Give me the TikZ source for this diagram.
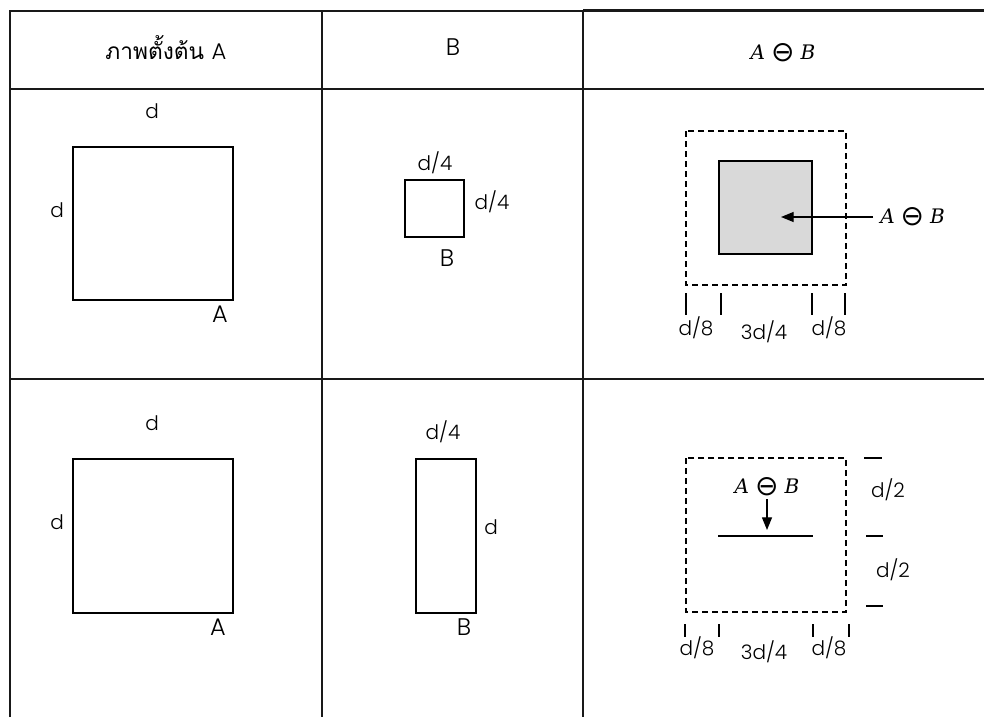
\documentclass[tikz,border=0pt]{standalone}
\usepackage{fontspec}
\setmainfont{Loma}[Script=Thai]
\IfFontExistsTF{Poppins Light}{\newfontfamily\labfont{Poppins Light}}{\newfontfamily\labfont{Poppins}}
\newfontfamily\itfont{DejaVu Serif}
\newfontfamily\symfont{DejaVu Sans}
\newcommand{\erosion}{{\itfont\itshape A}\hspace{0.3em}\raisebox{-1.8pt}{\symfont\fontsize{21}{21}\selectfont ⊖}\hspace{0.3em}{\itfont\itshape B}}
\usetikzlibrary{arrows.meta}
\tikzset{
  gridline/.style={line width=1.4pt*0.75, black!90},
  outline/.style={line width=1.5pt*0.75, black},
  dash box/.style={line width=1.4pt*0.75, black, dash pattern=on 4.5pt off 3pt},
  tickline/.style={line width=1.5pt*0.75, black},
  thai/.style={inner sep=0pt, font=\fontsize{17}{20}\selectfont},
  lbl/.style={inner sep=0pt, font=\labfont\fontsize{15}{18}\selectfont},
  caplbl/.style={inner sep=0pt, font=\labfont\fontsize{18}{20}\selectfont},
  mlbl/.style={inner sep=0pt, font=\fontsize{15}{18}\selectfont},
  arr/.style={line width=1.3pt*0.75, -{Triangle[length=9.5pt,width=7.5pt]}},
}
\begin{document}
\begin{tikzpicture}[x=0.75pt,y=-0.75pt]
\useasboundingbox (0,0) rectangle (984,717);
% table
\draw[gridline] (10,717) -- (10,11) -- (583,11);
\draw[gridline, line width=2.2pt*0.75] (583,10.5) -- (984,10.5);
\draw[gridline] (10,89) -- (984,89);
\draw[gridline] (10,379) -- (984,379);
\draw[gridline] (322,11) -- (322,717);
\draw[gridline] (583,11) -- (583,717);
% headers
\node[thai] (h1) at (166,48) {ภาพตั้งต้น {\labfont\fontsize{17}{20}\selectfont A}};
\node[caplbl] (h2) at (453,47) {B};
\node[mlbl] (h3) at (783,53) {\erosion};
% row 1, column 1
\draw[outline] (73,147) rectangle (233,300);
\node[lbl] (r1dtop) at (152,111) {d};
\node[lbl] (r1dleft) at (57,210) {d};
\node[caplbl] (r1A) at (220,314) {A};
% row 1, column 2
\draw[outline] (405,180) rectangle (464,237);
\node[lbl] (r1b1) at (435,163) {d/4};
\node[lbl] (r1b2) at (492,202) {d/4};
\node[caplbl] (r1B) at (447,258) {B};
% row 1, column 3
\draw[dash box] (686,131) rectangle (846,285);
\draw[outline, fill=black!15] (719,161) rectangle (812,254);
\node[mlbl, anchor=west] (r1res) at (880,217) {\erosion};
\coordinate (r1tip) at (781,217);
\draw[arr] (r1res.west) ++(-7,0) -- (r1tip);
\draw[tickline] (686,293) -- (686,315);
\draw[tickline] (721,293) -- (721,315);
\draw[tickline] (812,293) -- (812,315);
\draw[tickline] (845,293) -- (845,315);
\node[lbl] (r1e1) at (696,328) {d/8};
\node[lbl] (r1e2) at (764,332) {3d/4};
\node[lbl] (r1e3) at (829,328) {d/8};
% row 2, column 1
\draw[outline] (73,459) rectangle (233,613);
\node[lbl] (r2dtop) at (152,423) {d};
\node[lbl] (r2dleft) at (57,522) {d};
\node[caplbl] (r2A) at (218,627) {A};
% row 2, column 2
\draw[outline] (416,459) rectangle (476,613);
\node[lbl] (r2b1) at (443,432) {d/4};
\node[lbl] (r2b2) at (491,527) {d};
\node[caplbl] (r2B) at (464,627) {B};
% row 2, column 3
\draw[dash box] (686,458) rectangle (846,612);
\draw[line width=2.6pt*0.75] (718,536) -- (813,536);
\node[mlbl] (r2res) at (767,487) {\erosion};
\coordinate (r2tip) at (767,530);
\draw[arr] (r2res.south) ++(0,3) -- (r2tip);
\draw[tickline] (864,458) -- (882,458);
\draw[tickline] (866,536) -- (883,536);
\draw[tickline] (866,606) -- (883,606);
\node[lbl] (r2h1) at (888,490) {d/2};
\node[lbl] (r2h2) at (893,570) {d/2};
\draw[tickline] (685,624) -- (685,637);
\draw[tickline] (719,624) -- (719,637);
\draw[tickline] (813,624) -- (813,637);
\draw[tickline] (849,624) -- (849,637);
\node[lbl] (r2e1) at (697,648) {d/8};
\node[lbl] (r2e2) at (764,652) {3d/4};
\node[lbl] (r2e3) at (829,648) {d/8};
\end{tikzpicture}
\end{document}
